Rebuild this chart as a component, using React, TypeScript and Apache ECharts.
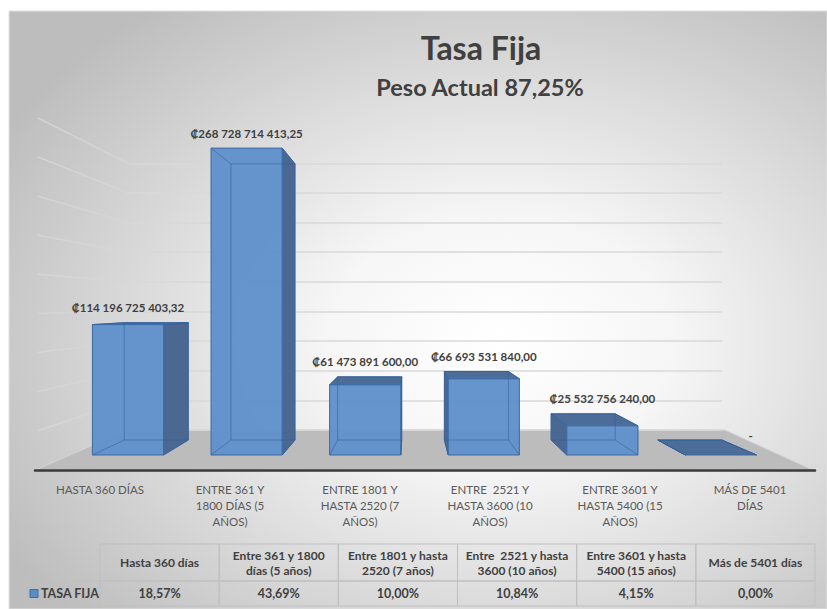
import React, { useEffect, useRef } from 'react';
import * as echarts from 'echarts';

// ---------- data ----------
const chartTitle = 'Tasa Fija';
const chartSubtitle = 'Peso Actual 87,25%';
const seriesName = 'TASA FIJA';
const categories = [
  'HASTA 360 DÍAS',
  'ENTRE 361 Y\n1800 DÍAS (5\nAÑOS)',
  'ENTRE 1801 Y\nHASTA 2520 (7\nAÑOS)',
  'ENTRE  2521 Y\nHASTA 3600 (10\nAÑOS)',
  'ENTRE 3601 Y\nHASTA 5400 (15\nAÑOS)',
  'MÁS DE 5401\nDÍAS',
];
const amounts = [114196725403.32, 268728714413.25, 61473891600.0, 66693531840.0, 25532756240.0, 0];
const tableHeaders = [
  'Hasta 360 días',
  'Entre 361 y 1800\ndías (5 años)',
  'Entre 1801 y hasta\n2520 (7 años)',
  'Entre  2521 y hasta\n3600 (10 años)',
  'Entre 3601 y hasta\n5400 (15 años)',
  'Más de 5401 días',
];
const shares = [18.57, 43.69, 10.0, 10.84, 4.15, 0.0];
const wallGridValues = [0, 30e9, 60e9, 90e9, 120e9, 150e9, 180e9, 210e9, 240e9, 270e9];

// ---------- layout / style ----------
const W = 827;
const H = 609;
const FRAME = { x: 9, y: 11 };
const FRONT = { left: 68.7, right: 46.7, top: 112.4, bottom: 154 };
const FRONT_MAX = 300e9;
const WALL = { left: 128, right: 105, top: 163.3, bottom: 179 };
const WALL_MAX = 270e9;
const WALL_STEP = 30e9;
const FLOOR = { left: 35, right: 12, top: 460, bottom: 139 };
const TABLE = { left: 100, right: 12, top: 544, height: 62, headerH: 37, labelLeft: 25 };
const EYE = { xFrac: 0.4796, value: 131e9 };
const BACK_SCALE = 0.9;
const SIDE_DEPTH = 1.32;
const BAR_RATIO = 0.6;
const FONT = 'Lato, "DejaVu Sans", sans-serif';
const TEXT = '#404040';

const VPX = FRONT.left + EYE.xFrac * (W - FRONT.left - FRONT.right);
const VPY = H - FRONT.bottom - (EYE.value / FRONT_MAX) * (H - FRONT.bottom - FRONT.top);

function fmtAmount(v: number): string {
  if (v === 0) return '-';
  const [i, d] = v.toFixed(2).split('.');
  return '₡' + i.replace(/\B(?=(\d{3})+(?!\d))/g, ' ') + ',' + d;
}
function fmtShare(v: number): string {
  return v.toFixed(2).replace('.', ',') + '%';
}

function buildOption(): any {
  const wallBackY = H - WALL.bottom;
  const floorFrontY = H - FLOOR.bottom;
  return {
    animation: false,
    backgroundColor: '#ffffff',
    graphic: [
      {
        type: 'rect',
        z: -10,
        shape: { x: FRAME.x, y: FRAME.y, width: W - FRAME.x, height: H - FRAME.y },
        style: {
          fill: {
            type: 'radial',
            x: 0.6,
            y: 0.55,
            r: 0.7,
            colorStops: [
              { offset: 0, color: '#ffffff' },
              { offset: 0.3, color: '#f6f6f6' },
              { offset: 1, color: '#bdbdbd' },
            ],
          },
          stroke: '#e0e0e0',
          lineWidth: 1,
        },
      },
      {
        type: 'polygon',
        z: -5,
        shape: {
          points: [
            [WALL.left, wallBackY],
            [W - WALL.right + 3, wallBackY],
            [W - FLOOR.right - 2, floorFrontY],
            [FLOOR.left, floorFrontY],
          ],
        },
        style: { fill: '#bcbcbc', stroke: '#d6d6d6', lineWidth: 1 },
      },
      {
        type: 'text',
        style: {
          text: chartTitle,
          x: 481,
          y: 47,
          align: 'center',
          verticalAlign: 'middle',
          font: `bold 32px ${FONT}`,
          fill: TEXT,
        },
      },
      {
        type: 'text',
        style: {
          text: chartSubtitle,
          x: 480,
          y: 87,
          align: 'center',
          verticalAlign: 'middle',
          font: `bold 23.5px ${FONT}`,
          fill: TEXT,
        },
      },
      // row header cell of the data table
      {
        type: 'rect',
        shape: {
          x: TABLE.labelLeft,
          y: TABLE.top + TABLE.headerH,
          width: TABLE.left - TABLE.labelLeft,
          height: TABLE.height - TABLE.headerH,
        },
        style: { fill: 'none', stroke: '#bfbfbf', lineWidth: 1 },
      },
      {
        type: 'rect',
        shape: { x: TABLE.labelLeft + 5, y: TABLE.top + TABLE.headerH + 8.5, width: 8, height: 8 },
        style: { fill: '#5b8cc9', stroke: '#3e6ca8', lineWidth: 1 },
      },
      {
        type: 'text',
        style: {
          text: seriesName,
          x: TABLE.labelLeft + 16,
          y: TABLE.top + TABLE.headerH + (TABLE.height - TABLE.headerH) / 2,
          align: 'left',
          verticalAlign: 'middle',
          font: `bold 12.5px ${FONT}`,
          fill: TEXT,
        },
      },
    ],
    grid: [
      { ...FRONT, outerBoundsMode: 'none', containLabel: false },
      { ...WALL, outerBoundsMode: 'none', containLabel: false },
      { ...FLOOR, outerBoundsMode: 'none', containLabel: false },
      {
        left: TABLE.left,
        right: TABLE.right,
        top: TABLE.top,
        height: TABLE.height,
        outerBoundsMode: 'none',
        containLabel: false,
      },
    ],
    xAxis: [
      { gridIndex: 0, type: 'category', data: categories, show: false },
      { gridIndex: 1, type: 'value', min: 0, max: 1, show: false },
      {
        gridIndex: 2,
        type: 'category',
        data: categories,
        position: 'bottom',
        axisLine: { show: true, lineStyle: { color: '#3a3a3a', width: 2.5 } },
        axisTick: { show: false },
        splitLine: { show: false },
        axisLabel: {
          interval: 0,
          margin: 11,
          color: '#595959',
          fontFamily: FONT,
          fontSize: 11.5,
          lineHeight: 16,
          align: 'center',
        },
      },
      { gridIndex: 3, type: 'category', data: tableHeaders, show: false },
    ],
    yAxis: [
      { gridIndex: 0, type: 'value', min: 0, max: FRONT_MAX, show: false },
      {
        gridIndex: 1,
        type: 'value',
        min: 0,
        max: WALL_MAX,
        interval: WALL_STEP,
        axisLine: { show: false },
        axisTick: { show: false },
        axisLabel: { show: false },
        splitLine: { show: true, lineStyle: { color: '#d9d9d9', width: 1.5 } },
      },
      { gridIndex: 2, type: 'value', min: 0, max: 1, show: false },
      { gridIndex: 3, type: 'value', min: 0, max: 1, show: false },
    ],
    series: [
      // side wall grid lines (perspective)
      {
        type: 'custom',
        xAxisIndex: 1,
        yAxisIndex: 1,
        z: 1,
        silent: true,
        data: wallGridValues.map((v) => [0, v]),
        renderItem: (params: any, api: any) => {
          const p = api.coord([0, api.value(1)]);
          const q = [VPX + (p[0] - VPX) * SIDE_DEPTH, VPY + (p[1] - VPY) * SIDE_DEPTH];
          return {
            type: 'line',
            shape: { x1: p[0], y1: p[1], x2: q[0], y2: q[1] },
            style: { stroke: api.value(1) === 0 ? 'rgba(0,0,0,0)' : '#d6d6d6', lineWidth: 1.4 },
          };
        },
      },
      // 3D bars
      {
        type: 'custom',
        name: seriesName,
        xAxisIndex: 0,
        yAxisIndex: 0,
        z: 3,
        data: amounts.map((v, i) => [i, v]),
        renderItem: (params: any, api: any) => {
          const cs = params.coordSys;
          const i = api.value(0);
          const v = api.value(1);
          const [cx, yT] = api.coord([i, v]);
          const yB = api.coord([i, 0])[1];
          const half = (api.size([1, 0])[0] * BAR_RATIO) / 2;
          const vx = cs.x + cs.width * EYE.xFrac;
          const vy = api.coord([i, EYE.value])[1];
          const P = (x: number, y: number) => [vx + (x - vx) * BACK_SCALE, vy + (y - vy) * BACK_SCALE];
          const x0 = cx - half;
          const x1 = cx + half;
          const ftl = [x0, yT], ftr = [x1, yT], fbl = [x0, yB], fbr = [x1, yB];
          const btl = P(x0, yT), btr = P(x1, yT), bbl = P(x0, yB), bbr = P(x1, yB);
          const edge = '#3d69a3';
          const children: any[] = [];
          const rightVisible = cx < vx;
          const side = rightVisible ? [ftr, btr, bbr, fbr] : [ftl, btl, bbl, fbl];
          children.push({
            type: 'polygon',
            shape: { points: side },
            style: { fill: '#4a6891', stroke: edge, lineWidth: 1 },
          });
          if (yT > vy) {
            children.push({
              type: 'polygon',
              shape: { points: [ftl, ftr, btr, btl] },
              style: { fill: '#4c6d98', stroke: edge, lineWidth: 1 },
            });
          }
          if (yB - yT > 0.5) {
            children.push({
              type: 'rect',
              shape: { x: x0, y: yT, width: x1 - x0, height: yB - yT },
              style: { fill: 'rgba(96,144,203,0.96)', stroke: edge, lineWidth: 1 },
            });
          }
          const hidden = 'rgba(52,92,150,0.55)';
          const ln = (a: number[], b: number[]) => ({
            type: 'line',
            shape: { x1: a[0], y1: a[1], x2: b[0], y2: b[1] },
            style: { stroke: hidden, lineWidth: 1 },
          });
          children.push(ln(btl, btr), ln(btr, bbr), ln(bbr, bbl), ln(bbl, btl));
          children.push(ln(ftl, btl), ln(ftr, btr), ln(fbl, bbl), ln(fbr, bbr));
          const topY = Math.min(yT, btl[1]);
          children.push({
            type: 'text',
            style: {
              text: fmtAmount(v),
              x: v === 0 ? x1 - 6 : cx,
              y: v === 0 ? topY - 5 : topY - 15,
              align: 'center',
              verticalAlign: 'middle',
              font: `bold 11.5px ${FONT}`,
              fill: TEXT,
            },
          });
          return { type: 'group', children };
        },
      },
      // data table
      {
        type: 'custom',
        xAxisIndex: 3,
        yAxisIndex: 3,
        z: 3,
        silent: true,
        data: shares.map((v, i) => [i, v]),
        renderItem: (params: any, api: any) => {
          const cs = params.coordSys;
          const i = api.value(0);
          const cx = api.coord([i, 0])[0];
          const bw = api.size([1, 0])[0];
          const x = cx - bw / 2;
          const border = '#bfbfbf';
          return {
            type: 'group',
            children: [
              {
                type: 'rect',
                shape: { x, y: cs.y, width: bw, height: TABLE.headerH },
                style: { fill: 'none', stroke: border, lineWidth: 1 },
              },
              {
                type: 'rect',
                shape: { x, y: cs.y + TABLE.headerH, width: bw, height: cs.height - TABLE.headerH },
                style: { fill: 'none', stroke: border, lineWidth: 1 },
              },
              {
                type: 'text',
                style: {
                  text: tableHeaders[i],
                  x: cx,
                  y: cs.y + TABLE.headerH / 2,
                  align: 'center',
                  verticalAlign: 'middle',
                  font: `bold 12px ${FONT}`,
                  lineHeight: 15,
                  fill: TEXT,
                },
              },
              {
                type: 'text',
                style: {
                  text: fmtShare(api.value(1)),
                  x: cx,
                  y: cs.y + TABLE.headerH + (cs.height - TABLE.headerH) / 2,
                  align: 'center',
                  verticalAlign: 'middle',
                  font: `bold 12.5px ${FONT}`,
                  fill: TEXT,
                },
              },
            ],
          };
        },
      },
    ],
  };
}

export default function App() {
  const ref = useRef<HTMLDivElement>(null);
  useEffect(() => {
    if (!ref.current) return;
    const chart = echarts.init(ref.current, undefined, { renderer: 'svg' });
    chart.setOption(buildOption());
    return () => chart.dispose();
  }, []);
  return (
    <div
      ref={ref}
      style={{ position: 'fixed', left: 0, top: 0, width: W, height: H, background: '#fff' }}
    />
  );
}
